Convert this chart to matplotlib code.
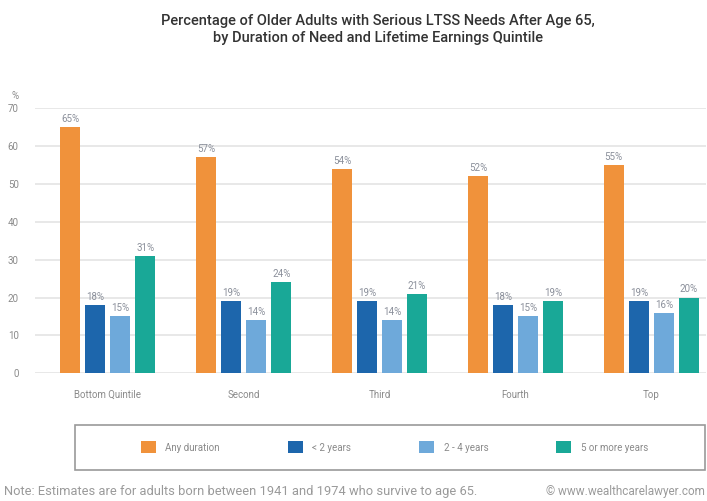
import numpy as np
import matplotlib.pyplot as plt
from matplotlib.patches import Rectangle

plt.rcParams['font.family'] = ['Roboto', 'DejaVu Sans']

quintiles = ['Bottom Quintile', 'Second', 'Third', 'Fourth', 'Top']
durations = ['Any duration', '< 2 years', '2 - 4 years', '5 or more years']
any_duration = [65, 57, 54, 52, 55]
under_2 = [18, 19, 19, 18, 19]
two_to_4 = [15, 14, 14, 15, 16]
five_plus = [31, 24, 21, 19, 20]
yticks = [0, 10, 20, 30, 40, 50, 60, 70]

series = [any_duration, under_2, two_to_4, five_plus]
colors = ['#F0923B', '#1D66AC', '#6EA9DA', '#19A897']

fig = plt.figure(figsize=(7.07, 5.01), dpi=100)
ax = fig.add_axes([0.05, 0.255, 0.948, 0.529])

x = np.arange(len(quintiles))
width = 0.147
pitch = 0.184
handles = []
for i, (vals, col) in enumerate(zip(series, colors)):
    pos = x + (i - 1.5) * pitch
    b = ax.bar(pos, vals, width, color=col, zorder=3, label=durations[i])
    handles.append(b)
    for px, v in zip(pos, vals):
        ax.text(px, v + 0.8, f'{v}%', ha='center', va='bottom',
                fontsize=7, color='#8a8f9a')

ax.set_xlim(-0.534, 4.40)
ax.set_ylim(0, 70)
ax.set_yticks(yticks)
ax.set_xticks(x)
ax.set_xticklabels(quintiles)
ax.tick_params(axis='both', length=0, labelsize=7, colors='#8a8a8a')
ax.tick_params(axis='x', pad=12)
ax.tick_params(axis='y', pad=12)
ax.grid(axis='y', color='#e4e4e4', linewidth=1.2, zorder=0)
for s in ax.spines.values():
    s.set_visible(False)
ax.text(-0.03, 1.035, '%', transform=ax.transAxes, fontsize=7,
        color='#8a8a8a', ha='center')

fig.text(0.535, 0.958, 'Percentage of Older Adults with Serious LTSS Needs After Age 65,',
         ha='center', va='center', fontsize=10.5, fontweight='medium', color='#333333')
fig.text(0.535, 0.924, 'by Duration of Need and Lifetime Earnings Quintile',
         ha='center', va='center', fontsize=10.5, fontweight='medium', color='#333333')

# legend frame drawn separately so the entries can sit centred inside it
fig.patches.append(Rectangle((0.106, 0.062), 0.891, 0.09, transform=fig.transFigure,
                             fill=False, edgecolor='#9a9a9a', linewidth=1.2))
fig.legend(handles=handles, loc='center', ncol=4, bbox_to_anchor=(0.558, 0.107),
           frameon=False, fontsize=7, handlelength=1.5, handleheight=1.5,
           columnspacing=7.0, handletextpad=1.0, labelcolor='#8a8a8a')

fig.text(0.006, 0.018, 'Note: Estimates are for adults born between 1941 and 1974 who survive to age 65.',
         fontsize=9.3, color='#9a9a9a', va='center')
fig.text(0.997, 0.018, '\u00a9 www.wealthcarelawyer.com', fontsize=8.5,
         color='#9a9a9a', va='center', ha='right')

fig.savefig('out.png', dpi=100)
